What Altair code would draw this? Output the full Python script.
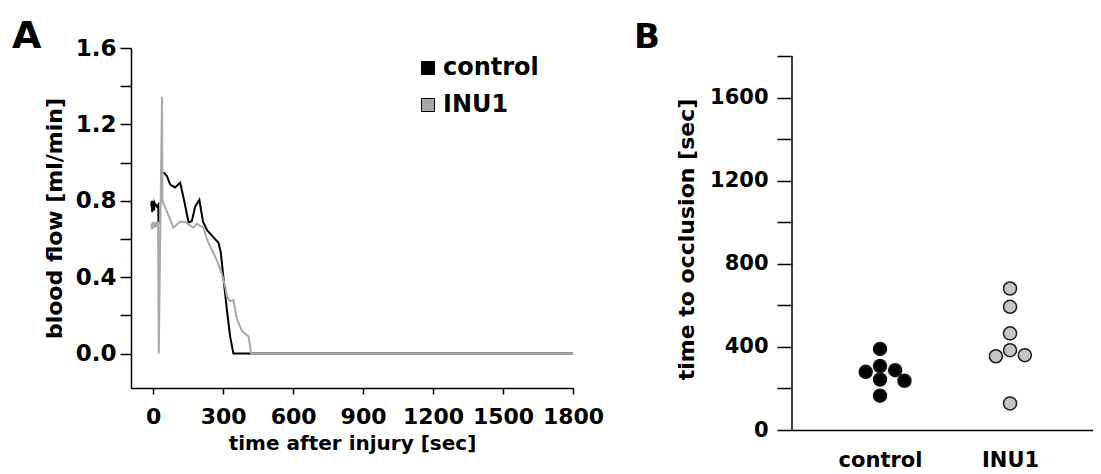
import math
import altair as alt
import pandas as pd

FONT = "DejaVu Sans"

# ---------------- Panel A data: blood flow traces ----------------
control_t = [-8, -6, -4, -2, 0, 2, 4, 6, 10, 16, 22, 23,
             44, 59, 73, 94, 116, 133, 152, 166, 180, 198, 214, 232, 258, 280,
             290, 301, 316, 330, 344, 1800]
control_v = [0.77, 0.80, 0.74, 0.79, 0.76, 0.80, 0.75, 0.79, 0.78, 0.77, 0.78, 0.68,
             0.95, 0.93, 0.885, 0.87, 0.895, 0.80, 0.685, 0.695, 0.77, 0.805, 0.69, 0.645, 0.61, 0.58,
             0.53, 0.40, 0.23, 0.09, 0.0, 0.0]
control_seg = [0] * 12 + [1] * 20

inu1_t = [-8, -6, -4, -2, 0, 3, 6, 10, 15, 21, 24, 38, 40, 87, 116, 137, 159, 173, 187,
          216, 230, 251, 273, 294, 309, 316, 330, 344, 359, 380, 409, 420, 1800]
inu1_v = [0.66, 0.68, 0.65, 0.69, 0.66, 0.68, 0.66, 0.69, 0.67, 0.68, 0.0, 1.345, 0.80, 0.66,
          0.69, 0.69, 0.67, 0.66, 0.68, 0.66, 0.60, 0.545, 0.49, 0.42, 0.35, 0.30, 0.275,
          0.28, 0.18, 0.12, 0.09, 0.0, 0.0]

series_names = ["control", "INU1"]
series_colors = ["#000000", "#a8a8a8"]

x_ticks_a = [0, 300, 600, 900, 1200, 1500, 1800]
y_ticks_a = [0.0, 0.2, 0.4, 0.6, 0.8, 1.0, 1.2, 1.4, 1.6]

# ---------------- Panel B data: time to occlusion ----------------
occl_control = [390, 308, 288, 280, 243, 237, 165]
occl_inu1 = [681, 593, 465, 384, 360, 355, 128]
groups = ["control", "INU1"]
dot_fill = ["#000000", "#c4c4c4"]
y_ticks_b = [0, 200, 400, 600, 800, 1000, 1200, 1400, 1600, 1800]

# ---------------- layout sizes ----------------
WA, HA = 442, 340
WB = 301
HB_AXIS = 374           # pixel length of the 0..1800 axis
HB = 382                # plot height (a little headroom above the axis end)
YB_MAX = y_ticks_b[-1] * HB / HB_AXIS
XB_DOM = [-0.677, 1.638]

rows = []
for t, v, s in zip(control_t, control_v, control_seg):
    rows.append({"t": t, "v": v, "series": "control", "key": "control", "seg": f"c{s}"})
for t, v in zip(inu1_t, inu1_v):
    rows.append({"t": t, "v": v, "series": "INU1", "key": "INU1", "seg": "i0"})
flow = pd.DataFrame(rows)


def swarm(vals, ppu_y, dx_min, dy_min):
    placed, offs = [], []
    for val in vals:
        y = val * ppu_y
        cands = [0.0]
        for px, py in placed:
            d = abs(y - py)
            if d < dy_min:
                w = dx_min * math.sqrt(1 - (d / dy_min) ** 2)
                cands += [px + w, px - w]
        cands.sort(key=lambda c: (round(abs(c), 6), -c))
        chosen = 0.0
        for c in cands:
            if all(((c - px) / dx_min) ** 2 + ((y - py) / dy_min) ** 2 >= 1 - 1e-9
                   for px, py in placed):
                chosen = c
                break
        placed.append((chosen, y))
        offs.append(chosen)
    return offs


ppu_y = HB / YB_MAX
upp_x = (XB_DOM[1] - XB_DOM[0]) / WB
drows = []
for gi, (g, vals) in enumerate(zip(groups, [occl_control, occl_inu1])):
    offs = swarm(vals, ppu_y, 16.0, 13.0)
    for val, o in zip(vals, offs):
        drows.append({"group": g, "pos": gi + o * upp_x, "value": val})
dots = pd.DataFrame(drows)

# ---------------- Panel A ----------------
xa = alt.X("t:Q", scale=alt.Scale(domain=[-95, 1800], nice=False, zero=False),
           axis=alt.Axis(values=x_ticks_a, format="d", tickSize=6, labelPadding=12,
                         labelFontSize=22, labelFlush=False, labelOverlap=False,
                         title="time after injury [sec]", titleFontSize=20, titlePadding=6))
ya = alt.Y("v:Q", scale=alt.Scale(domain=[-0.18, 1.6], nice=False, zero=False),
           axis=alt.Axis(values=y_ticks_a,
                         labelExpr="round(datum.value*10) % 4 == 0 ? format(datum.value, '.1f') : ''",
                         tickSize=11, labelPadding=4, labelFontSize=23, labelFlush=False,
                         labelOverlap=False,
                         title="blood flow [ml/min]", titleFontSize=22, titlePadding=9))
color_a = alt.Color("series:N", scale=alt.Scale(domain=series_names, range=series_colors),
                    legend=None)

base_a = alt.Chart(flow)
line_c = base_a.transform_filter(alt.datum.series == "control").mark_line(
    strokeWidth=2, clip=True).encode(x=xa, y=ya, color=color_a, detail="seg:N", order="t:Q")
line_i = base_a.transform_filter(alt.datum.series == "INU1").mark_line(
    strokeWidth=2, clip=True).encode(x=xa, y=ya, color=color_a, detail="seg:N", order="t:Q")
legend_layer = base_a.transform_filter("datum.t > 100000").mark_square(
    size=169, stroke="black", strokeWidth=1, opacity=1).encode(
    x=xa, y=ya,
    fill=alt.Fill("key:N", scale=alt.Scale(domain=series_names, range=series_colors),
                  legend=alt.Legend(title=None, orient="none", legendX=285, legendY=8,
                                    symbolType="square", symbolSize=169,
                                    symbolStrokeColor="black", symbolStrokeWidth=1,
                                    symbolOpacity=1,
                                    labelFontSize=24, labelFont=FONT, labelFontWeight="bold",
                                    labelColor="black", rowPadding=13, labelOffset=3,
                                    padding=0)))

panel_a = alt.layer(line_c, line_i, legend_layer).resolve_scale(
    color="independent", fill="independent").properties(
    width=WA, height=HA,
    title=alt.TitleParams(text="A", anchor="start", frame="group", dx=-119, offset=-19,
                          fontSize=38, font=FONT, fontWeight="bold", color="black"))

# ---------------- Panel B ----------------
yb_scale = alt.Scale(domain=[0, YB_MAX], nice=False)
dots_layer = alt.Chart(dots).mark_circle(size=170, stroke="#1a1a1a", strokeWidth=1.5,
                                         opacity=1).encode(
    x=alt.X("pos:Q", scale=alt.Scale(domain=XB_DOM, nice=False, zero=False),
            axis=alt.Axis(values=[0, 1], ticks=False, tickSize=0, labelPadding=19,
                          labelFontSize=21, labelFlush=False,
                          labelExpr="datum.value == 0 ? 'control' : 'INU1'", title=None)),
    y=alt.Y("value:Q", scale=yb_scale,
            axis=alt.Axis(values=y_ticks_b, domain=False,
                          labelExpr="datum.value % 400 == 0 ? format(datum.value, 'd') : ''",
                          tickSize=15, labelPadding=9, labelFontSize=21, labelFlush=False,
                          labelOverlap=False,
                          title="time to occlusion [sec]", titleFontSize=22, titlePadding=11)),
    fill=alt.Fill("group:N", scale=alt.Scale(domain=groups, range=dot_fill), legend=None),
)
axis_line_b = alt.Chart(pd.DataFrame({"value": [y_ticks_b[-1]], "value2": [y_ticks_b[0]]})
                        ).mark_rule(color="black", strokeWidth=1.5).encode(
    x=alt.value(0), y=alt.Y("value:Q", scale=yb_scale), y2="value2:Q")

panel_b = alt.layer(dots_layer, axis_line_b).properties(
    width=WB, height=HB,
    title=alt.TitleParams(text="B", anchor="start", frame="group", dx=-158, offset=-9.5,
                          fontSize=34, font=FONT, fontWeight="bold", color="black"))

chart = alt.hconcat(panel_a, panel_b, spacing=30).resolve_scale(
    fill="independent", color="independent").properties(
    padding={"left": 4, "top": 10, "right": 0, "bottom": 0}
).configure_view(stroke=None).configure_axis(
    grid=False, domainColor="black", tickColor="black", domainWidth=1.5, tickWidth=1.5,
    labelFont=FONT, labelFontWeight="bold", labelColor="black",
    titleFont=FONT, titleFontWeight="bold", titleColor="black")

chart.save("out.html", embed_options={"renderer": "svg", "actions": False})
